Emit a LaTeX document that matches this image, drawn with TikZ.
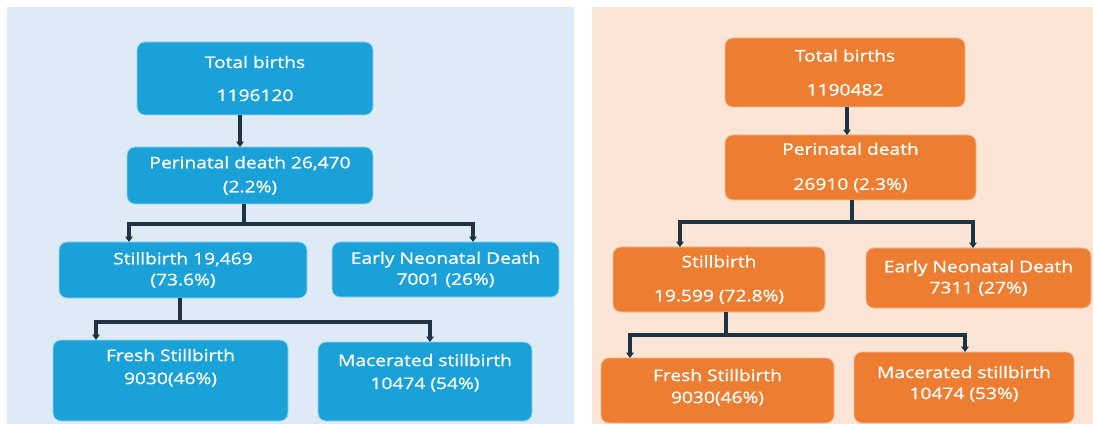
\documentclass[tikz,border=0pt]{standalone}
\usepackage{fontspec}
\setmainfont{Open Sans}
\newfontfamily\boxfont{Open Sans}[FakeBold=1,FakeStretch=1.2]
\usepackage{xcolor}
\usepackage{tikz}
\usetikzlibrary{positioning,arrows.meta}
\definecolor{paleblue}{HTML}{DEEBF7}
\definecolor{skyblue}{HTML}{1AA2D8}
\definecolor{peach}{HTML}{FBE5D6}
\definecolor{tangerine}{HTML}{ED7D31}
\definecolor{inkblue}{HTML}{1E3442}

\begin{document}
\begin{tikzpicture}[x=0.75pt,y=-0.75pt,
    box/.style={rounded corners=6pt, inner sep=0pt, outer sep=0pt, align=center, text=white, font=\boxfont\fontsize{12}{15}\selectfont},
    bluebox/.style={box, fill=skyblue, draw=skyblue!45!white, line width=0.6pt},
    orangebox/.style={box, fill=tangerine, draw=tangerine!55!white, line width=0.6pt},
    wh/.style 2 args={minimum width=#1*0.75pt, minimum height=#2*0.75pt},
    link/.style={draw=inkblue, line width=2.4pt},
    arr/.style={link, -{Triangle[width=5.5pt,length=4pt]}}]
    \useasboundingbox (0,0) rectangle (1093,424);
    \fill[paleblue] (7,7) rectangle (574,424);
    \fill[peach] (592,7) rectangle (1093,424);

    \node[bluebox, wh={236}{73}] (lt) at (255,78.5) {Total births\\[9.75pt]1196120};
    \node[bluebox, wh={246}{57}] (lp) at (250,175.5) {Perinatal death 26,470\\[3pt](2.2\%)};
    \node[bluebox, wh={248}{56}] (ls) at (183,270) {Stillbirth 19,469\\[0.75pt](73.6\%)};
    \node[bluebox, wh={227}{55}] (le) at (445.5,269.5) {Early Neonatal Death\\[0.75pt]7001 (26\%)};
    \node[bluebox, wh={235}{81}] (lf) at (170.5,380.5) {Fresh Stillbirth\\[2.25pt]9030(46\%)\\[6pt]};
    \node[bluebox, wh={214}{79}] (lm) at (425,381.5) {Macerated stillbirth\\[2.25pt]10474 (54\%)\\[0pt]};

    \node[orangebox, wh={240}{69}] (rt) at (845,72.5) {Total births\\[10.5pt]1190482};
    \node[orangebox, wh={251}{65}] (rp) at (850.5,167.5) {Perinatal death\\[11.25pt]26910 (2.3\%)};
    \node[orangebox, wh={212}{65}] (rs) at (719,279.5) {Stillbirth\\[10.5pt]19.599 (72.8\%)};
    \node[orangebox, wh={225}{60}] (re) at (978.5,278) {Early Neonatal Death\\[0.75pt]7311 (27\%)};
    \node[orangebox, wh={233}{65}] (rf) at (717.5,390.5) {Fresh Stillbirth\\[1.5pt]9030(46\%)\\[-8.25pt]};
    \node[orangebox, wh={220}{71}] (rm) at (964,387.5) {Macerated stillbirth\\[0.75pt]10474 (53\%)\\[-7.5pt]};

    \draw[arr] (240,0 |- lt.south) -- (240,0 |- lp.north);
    \coordinate (lj) at (244,224);
    \draw[link] (lj |- lp.south) -- (lj);
    \draw[arr] (lj) -| (129,0 |- ls.north);
    \draw[arr] (lj) -| (473,0 |- le.north);
    \coordinate (lk) at (180,322);
    \draw[link] (lk |- ls.south) -- (lk);
    \draw[arr] (lk) -| (96,0 |- lf.north);
    \draw[arr] (lk) -| (430,0 |- lm.north);

    \draw[arr] (847,0 |- rt.south) -- (847,0 |- rp.north);
    \coordinate (rj) at (852,222);
    \draw[link] (rj |- rp.south) -- (rj);
    \draw[arr] (rj) -| (680,0 |- rs.north);
    \draw[arr] (rj) -| (973,0 |- re.north);
    \coordinate (rk) at (726,335);
    \draw[link] (rk |- rs.south) -- (rk);
    \draw[arr] (rk) -| (630,0 |- rf.north);
    \draw[arr] (rk) -| (965,0 |- rm.north);
  \end{tikzpicture}
\end{document}
